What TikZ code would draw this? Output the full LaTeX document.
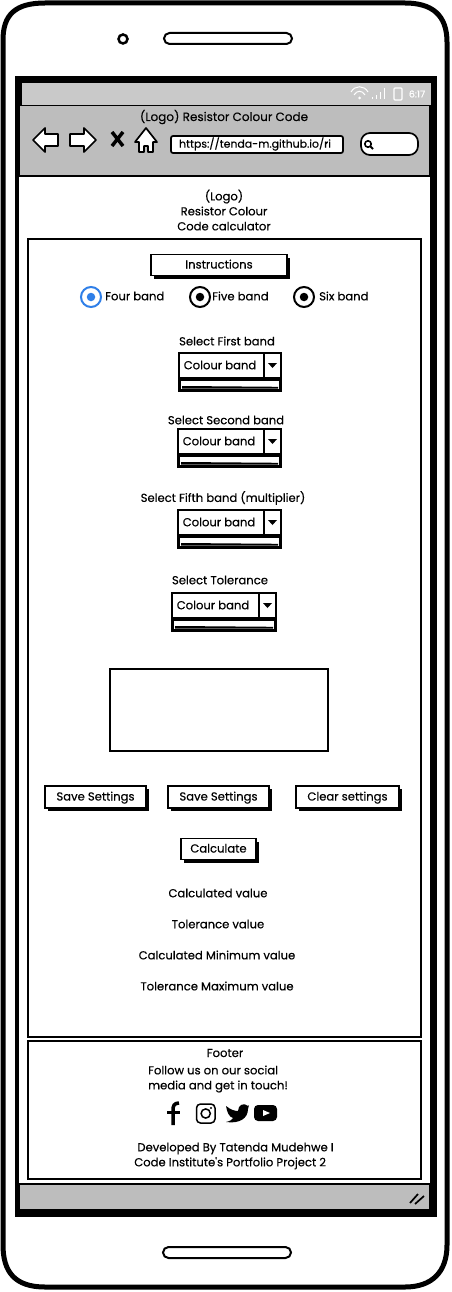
\documentclass[tikz,border=0pt]{standalone}
\usepackage{fontspec}
\setmainfont{Poppins}[Ligatures=TeXOff,RawFeature={embolden=0.35}]
\usetikzlibrary{shadows}
\definecolor{barA}{HTML}{C9C9C9}
\definecolor{barB}{HTML}{BDBDBD}
\definecolor{radioblue}{HTML}{2F7FE8}
\tikzset{
  lbl/.style={font=\fontsize{11.6}{15}\selectfont,inner sep=0pt,align=center,yshift=1pt},
  lblsmall/.style={lbl,font=\fontsize{10.9}{15}\selectfont},
  btn/.style={draw,line width=1.5pt,fill=white,inner sep=0pt,lbl,yshift=-1pt,text height=8.5pt,text depth=1.5pt,
    drop shadow={shadow xshift=2.5pt,shadow yshift=-3pt,fill=black,opacity=1}},
  icon/.style={draw,line width=1.7pt,fill=white,line join=round},
  radio/.style={circle,draw,line width=2pt,minimum size=20pt,inner sep=0pt,fill=white},
  radiodot/.style={circle,fill,minimum size=8.5pt,inner sep=0pt},
}
% drop down: name, left, top, right
\newcommand{\colourband}[4]{
  \draw[line width=1.6pt,fill=white] (#2,#3) rectangle (#4,#3+25);
  \draw[line width=1.6pt] (#4-17,#3) -- (#4-17,#3+25);
  \fill (#4-13,#3+10) -- (#4-4,#3+10) -- (#4-8.5,#3+15) -- cycle;
  \node[lbl] (#1) at (#2+41,#3+13) {Colour band};
  \draw[line width=3pt,fill=white] (#2+.8,#3+26.5) rectangle (#4-.8,#3+37);
  \fill (#2+3,#3+33) -- (#4-3,#3+33.8) -- (#4-3,#3+35.5) -- (#2+3,#3+35.5) -- cycle;
}
\begin{document}
\begin{tikzpicture}[x=1pt,y=-1pt]
\useasboundingbox (0,0) rectangle (452,1292);

% phone body
\draw[line width=5pt,fill=white] (3,40) .. controls (3,15) and (15,3) .. (45,3)
  -- (405,3) .. controls (432,3) and (447,15) .. (447,42)
  -- (447,1245) .. controls (447,1272) and (432,1287) .. (405,1287)
  -- (45,1287) .. controls (15,1287) and (3,1272) .. (3,1245) -- cycle;
\draw[line width=2.5pt] (123,39) circle (4.5);
\draw[line width=2pt,rounded corners=5.5pt] (164,33) rectangle (292,44);
\draw[line width=2pt,rounded corners=5.5pt] (163,1247) rectangle (291,1258);

% screen
\fill (15,76) rectangle (437,1217);
\fill[white] (19,105) rectangle (430,1210);
\fill[barA] (22,83) rectangle (431,105);
\draw[line width=1.5pt,fill=barB] (19,105.5) rectangle (430,176);
\draw[line width=1.5pt,fill=barB] (19,1184) rectangle (430,1210);
\draw[line width=1.7pt] (410,1203) -- (418,1194) (415,1204) -- (424,1196);

% status bar
\begin{scope}[white]
\draw[line width=1pt] (351,92) .. controls (355,85) and (364,85) .. (368,92);
\draw[line width=1pt] (354,95) .. controls (357,90) and (362,90) .. (365,95);
\fill (359.5,98) circle (1.5);
\draw[line width=1pt] (372,99) -- (372,97) (376,99) -- (376,95) (380,99) -- (380,92) (384,99) -- (384,88);
\draw[line width=1.3pt,rounded corners=1pt] (394,88) rectangle (402,100);
\node[font=\fontsize{9.5}{10}\selectfont,inner sep=0pt] (clock) at (417,94) {6:17};
\end{scope}

% toolbar
\node[lbl,font=\fontsize{12}{15}\selectfont] (pagetitle) at (224,118) {(Logo) Resistor Colour Code};
\draw[icon] (33,140) -- (45,128) -- (45,134) -- (58,134) -- (58,146) -- (45,146) -- (45,152) -- cycle;
\draw[icon] (96,140) -- (84,128) -- (84,134) -- (70,134) -- (70,146) -- (84,146) -- (84,152) -- cycle;
\draw[line width=3.5pt] (112,132) -- (123,146) (123,132) -- (112,146);
\draw[icon] (146,128) -- (157,142) -- (153,142) -- (153,152) -- (148,152) -- (148,146) -- (144,146) -- (144,152) -- (139,152) -- (139,142) -- (135,142) -- cycle;
\draw[line width=1.7pt,fill=white,rounded corners=2pt] (171,136) rectangle (343,153);
\node[lblsmall] (urltext) at (255,145) {https://tenda-m.github.io/ri};
\draw[line width=1.7pt,fill=white,rounded corners=9pt] (361,133) rectangle (418,155);
\draw[line width=1.6pt] (368,144) circle (3.2);
\draw[line width=1.8pt] (370.5,146.5) -- (373,149);

% page heading
\node[lbl] (heading) at (224,211) {(Logo)\\Resistor Colour\\Code calculator};

% panels
\draw[line width=1.5pt] (28,239) rectangle (421,1037);
\draw[line width=1.5pt] (28,1041) rectangle (421,1179);

\node[btn,minimum width=136pt,minimum height=21pt] (instructions) at (219,265) {Instructions};

% radios
\node[radio,draw=radioblue] (rfour) at (91,297) {};
\node[radiodot,fill=radioblue] (dfour) at (91,297) {};
\node[lbl,anchor=west] (tfour) at (105,297) {Four band};
\node[radio] (rfive) at (200,297) {};
\node[radiodot] (dfive) at (200,297) {};
\node[lbl,anchor=west] (tfive) at (212,297) {Five band};
\node[radio] (rsix) at (304,297) {};
\node[radiodot] (dsix) at (304,297) {};
\node[lbl,anchor=west] (tsix) at (319,297) {Six band};

% selects
\node[lbl] (sfirst) at (227,342) {Select First band};
\colourband{bandA}{179}{353}{281}
\node[lbl] (ssecond) at (226,421) {Select Second band};
\colourband{bandB}{178}{429}{281}
\node[lbl] (sfifth) at (223,499) {Select Fifth band (multiplier)};
\colourband{bandC}{178}{510}{281}
\node[lbl] (stol) at (220,581) {Select Tolerance};
\colourband{bandD}{172}{593}{276}

% output box
\draw[line width=1.5pt] (110,669) rectangle (328,751);

% buttons
\node[btn,minimum width=101pt,minimum height=22pt] (saveA) at (95.5,797) {Save Settings};
\node[btn,minimum width=101pt,minimum height=22pt] (saveB) at (218.5,797) {Save Settings};
\node[btn,minimum width=103pt,minimum height=22pt] (clear) at (347.5,797) {Clear settings};
\node[btn,minimum width=75pt,minimum height=21pt] (calc) at (218.5,849) {Calculate};

% results
\node[lbl] (rcalc) at (218,894) {Calculated value};
\node[lbl] (rtol) at (218,925) {Tolerance value};
\node[lbl] (rmin) at (217,956) {Calculated Minimum value};
\node[lbl] (rmax) at (217,987) {Tolerance Maximum value};

% footer
\node[lbl] (footer) at (225,1054) {Footer};
\node[lbl,align=left] (follow) at (218,1080) {Follow us on our social\\media and get in touch!};
\node[lbl,align=left] (dev) at (234,1157) {\ Developed By Tatenda Mudehwe I\\Code Institute's Portfolio Project 2};

% social icons
\draw[line width=3.5pt] (179,1103) .. controls (174,1103) and (173,1106) .. (173,1110) -- (173,1125);
\draw[line width=3pt] (167,1112) -- (180,1112);
\draw[line width=1.5pt,rounded corners=4pt] (196.5,1104) rectangle (215,1123);
\draw[line width=1.5pt] (205.7,1113.5) circle (4.6);
\fill (211,1108) circle (1.1);
\fill (226,1106) .. controls (231,1110) and (235,1111) .. (238,1111)
  .. controls (238,1105) and (244,1102) .. (248,1106) -- (249,1105) -- (248,1109)
  .. controls (248,1118) and (240,1124) .. (226,1122) .. controls (230,1121) and (232,1120) .. (233,1118)
  .. controls (229,1117) and (227,1112) .. (226,1106) -- cycle;
\fill[rounded corners=4pt] (254,1105) rectangle (277,1121);
\fill[white] (263,1110) -- (270,1113) -- (263,1116) -- cycle;
\end{tikzpicture}
\end{document}
